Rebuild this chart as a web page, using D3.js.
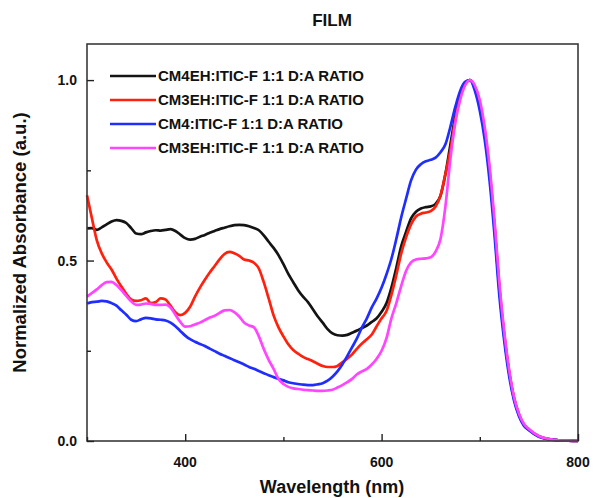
<!DOCTYPE html>
<html>
<head>
<meta charset="utf-8">
<script src="https://cdn.jsdelivr.net/npm/d3@7/dist/d3.min.js"></script>
<style>
  html, body { margin: 0; padding: 0; background: #fff; }
  svg { display: block; }
  text { font-family: "Liberation Sans", Arial, sans-serif; font-weight: bold; fill: #111; }
</style>
</head>
<body>
<svg id="chart" width="595" height="498"></svg>
<script>
// ---- data ----
const wavelengths = [
  300,305,310,315,320,325,330,335,340,345,350,355,360,365,370,375,380,385,390,395,
  400,405,410,415,420,425,430,435,440,445,450,455,460,465,470,475,480,485,490,495,
  500,505,510,515,520,525,530,535,540,545,550,555,560,565,570,575,580,585,590,595,
  600,605,610,615,620,625,630,635,640,645,650,655,660,665,670,675,680,685,690,695,
  700,705,710,715,720,725,730,735,740,745,750,760,770,780,790,800
];
const cm4ehValues = [
  0.589,0.590,0.585,0.592,0.600,0.608,0.612,0.610,0.604,0.590,0.575,0.573,0.578,0.582,0.584,0.583,0.585,0.587,0.582,0.572,
  0.562,0.558,0.560,0.566,0.571,0.577,0.582,0.587,0.591,0.595,0.598,0.599,0.598,0.595,0.590,0.584,0.570,0.552,0.535,0.515,
  0.490,0.463,0.440,0.418,0.400,0.385,0.365,0.345,0.328,0.310,0.298,0.293,0.292,0.294,0.300,0.306,0.313,0.320,0.330,0.340,
  0.358,0.382,0.425,0.480,0.540,0.580,0.617,0.635,0.644,0.648,0.650,0.657,0.680,0.740,0.820,0.900,0.955,0.990,1.000,0.978,
  0.930,0.852,0.740,0.590,0.418,0.288,0.188,0.116,0.072,0.044,0.031,0.013,0.005,0.002,0.001,0.000
];
const cm3ehValues = [
  0.681,0.617,0.556,0.520,0.495,0.475,0.450,0.428,0.408,0.392,0.388,0.390,0.395,0.382,0.385,0.395,0.392,0.375,0.357,0.349,
  0.355,0.372,0.400,0.425,0.447,0.467,0.485,0.503,0.518,0.524,0.520,0.513,0.503,0.500,0.494,0.478,0.440,0.395,0.348,0.315,
  0.290,0.268,0.252,0.242,0.233,0.227,0.221,0.214,0.208,0.205,0.205,0.208,0.218,0.228,0.240,0.256,0.270,0.282,0.295,0.318,
  0.340,0.360,0.405,0.460,0.520,0.565,0.600,0.622,0.630,0.633,0.637,0.650,0.680,0.740,0.805,0.890,0.955,0.990,1.000,0.980,
  0.935,0.858,0.748,0.598,0.425,0.293,0.190,0.118,0.073,0.045,0.032,0.013,0.005,0.002,0.001,0.000
];
const cm4Values = [
  0.381,0.385,0.386,0.388,0.387,0.382,0.375,0.362,0.350,0.336,0.332,0.337,0.341,0.340,0.337,0.336,0.334,0.328,0.318,0.305,
  0.292,0.282,0.275,0.269,0.263,0.256,0.249,0.242,0.236,0.230,0.224,0.218,0.212,0.205,0.200,0.194,0.188,0.182,0.177,0.172,
  0.168,0.163,0.160,0.158,0.156,0.155,0.155,0.157,0.160,0.167,0.178,0.193,0.212,0.235,0.260,0.285,0.315,0.340,0.370,0.395,
  0.425,0.462,0.505,0.560,0.620,0.672,0.722,0.752,0.767,0.775,0.779,0.785,0.800,0.822,0.870,0.925,0.970,0.995,1.000,0.970,
  0.915,0.835,0.720,0.570,0.400,0.275,0.178,0.110,0.068,0.042,0.030,0.012,0.005,0.002,0.001,0.000
];
const cm3ehBValues = [
  0.400,0.410,0.420,0.432,0.440,0.441,0.432,0.418,0.402,0.387,0.377,0.378,0.381,0.380,0.377,0.377,0.378,0.370,0.350,0.330,
  0.317,0.318,0.323,0.328,0.335,0.342,0.347,0.355,0.362,0.363,0.357,0.345,0.328,0.320,0.315,0.290,0.255,0.225,0.200,0.172,
  0.158,0.150,0.146,0.144,0.142,0.141,0.140,0.139,0.139,0.140,0.142,0.148,0.155,0.163,0.172,0.185,0.193,0.200,0.212,0.228,
  0.250,0.285,0.340,0.382,0.430,0.472,0.495,0.503,0.505,0.506,0.509,0.525,0.560,0.650,0.780,0.880,0.945,0.985,1.000,0.985,
  0.945,0.870,0.760,0.610,0.435,0.300,0.195,0.120,0.075,0.047,0.033,0.014,0.006,0.002,0.001,0.000
];
const seriesNames = [
  "CM4EH:ITIC-F 1:1 D:A RATIO",
  "CM3EH:ITIC-F 1:1 D:A RATIO",
  "CM4:ITIC-F 1:1 D:A RATIO",
  "CM3EH:ITIC-F 1:1 D:A RATIO"
];
const seriesColors = ["#141414", "#ff200e", "#1f2dff", "#ff45ff"];
const xTickValues = [400, 600, 800];
const xMinorTicks = [300, 500, 700];
const yTickValues = [0.0, 0.5, 1.0];
const yMinorTicks = [0.25, 0.75];
const titleText = "FILM";
const xTitle = "Wavelength (nm)";
const yTitle = "Normalized Absorbance (a.u.)";

const allSeries = [cm4ehValues, cm3ehValues, cm4Values, cm3ehBValues];

// ---- layout ----
const svg = d3.select("#chart");
const L = 87, R = 578, T = 44, B = 441;
const x = d3.scaleLinear().domain([300, 800]).range([L, R]);
const y = d3.scaleLinear().domain([0, 1.1]).range([B, T]);

// lines
const line = d3.line()
  .x(d => x(d[0]))
  .y(d => y(d[1]))
  .curve(d3.curveMonotoneX);

allSeries.forEach((vals, i) => {
  const pts = wavelengths.map((w, k) => [w, vals[k]]);
  svg.append("path")
    .attr("d", line(pts))
    .attr("fill", "none")
    .attr("stroke", seriesColors[i])
    .attr("stroke-width", 2.7)
    .attr("stroke-linejoin", "round");
});

// frame
svg.append("rect")
  .attr("x", L).attr("y", T)
  .attr("width", R - L).attr("height", B - T)
  .attr("fill", "none").attr("stroke", "#3a3a3a").attr("stroke-width", 1.6);

// axes (inward ticks)
const xAxis = d3.axisTop(x).tickValues(xTickValues).tickSize(7).tickFormat("");
const xAxisMinor = d3.axisTop(x).tickValues(xMinorTicks).tickSize(4).tickFormat("");
const yAxis = d3.axisRight(y).tickValues(yTickValues).tickSize(7).tickFormat("");
const yAxisMinor = d3.axisRight(y).tickValues(yMinorTicks).tickSize(4).tickFormat("");

function styleAxis(g) {
  g.select(".domain").remove();
  g.selectAll(".tick line").attr("stroke", "#222").attr("stroke-width", 1.4);
}
svg.append("g").attr("transform", `translate(0,${B})`).call(xAxis).call(styleAxis);
svg.append("g").attr("transform", `translate(0,${B})`).call(xAxisMinor).call(styleAxis);
svg.append("g").attr("transform", `translate(${L},0)`).call(yAxis).call(styleAxis);
svg.append("g").attr("transform", `translate(${L},0)`).call(yAxisMinor).call(styleAxis);

// tick labels
const fmt = d3.format(".1f");
svg.append("g").selectAll("text").data(xTickValues).join("text")
  .attr("x", d => x(d)).attr("y", B + 26)
  .attr("text-anchor", "middle").attr("font-size", 14)
  .text(d => d);
svg.append("g").selectAll("text").data(yTickValues).join("text")
  .attr("x", L - 10).attr("y", d => y(d) + 5)
  .attr("text-anchor", "end").attr("font-size", 14)
  .text(d => fmt(d));

// titles
svg.append("text").attr("x", 332).attr("y", 26)
  .attr("text-anchor", "middle").attr("font-size", 17).text(titleText);
svg.append("text").attr("x", 332).attr("y", 493)
  .attr("text-anchor", "middle").attr("font-size", 18).text(xTitle);
svg.append("text")
  .attr("transform", `translate(26,${(T + B) / 2}) rotate(-90)`)
  .attr("text-anchor", "middle").attr("font-size", 18.5).text(yTitle);

// legend
const legY0 = 76, legDy = 24;
seriesNames.forEach((name, i) => {
  const yy = legY0 + i * legDy;
  svg.append("line")
    .attr("x1", 110).attr("x2", 156).attr("y1", yy).attr("y2", yy)
    .attr("stroke", seriesColors[i]).attr("stroke-width", 2.7);
  svg.append("text").attr("x", 158).attr("y", yy + 5)
    .attr("font-size", 15).text(name);
});
</script>
</body>
</html>
